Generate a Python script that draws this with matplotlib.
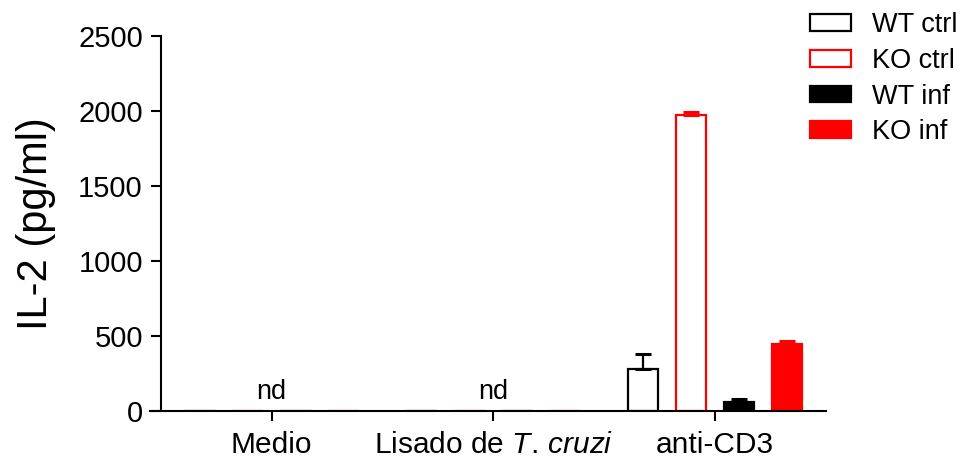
import numpy as np
import matplotlib
matplotlib.use('Agg')
import matplotlib.pyplot as plt
from matplotlib.patches import Patch

plt.rcParams['font.family'] = 'Liberation Sans'
plt.rcParams['mathtext.fontset'] = 'custom'
plt.rcParams['mathtext.rm'] = 'Liberation Sans'
plt.rcParams['mathtext.it'] = 'Liberation Sans:italic'

groups = ['Medio', 'Lisado de $\\it{T.\\,cruzi}$', 'anti-CD3']
wt_ctrl = [0, 0, 285]
ko_ctrl = [0, 0, 1973]
wt_inf = [0, 0, 62]
ko_inf = [0, 4, 451]
wt_ctrl_err = [0, 0, 100]
ko_ctrl_err = [0, 0, 22]
wt_inf_err = [0, 0, 18]
ko_inf_err = [0, 0, 16]
nd_groups = [0, 1]

series = [
    ('WT ctrl', wt_ctrl, wt_ctrl_err, 'white', 'black'),
    ('KO ctrl', ko_ctrl, ko_ctrl_err, 'white', 'red'),
    ('WT inf', wt_inf, wt_inf_err, 'black', 'black'),
    ('KO inf', ko_inf, ko_inf_err, 'red', 'red'),
]

fig = plt.figure(figsize=(9.6, 4.59), dpi=100)
ax = fig.add_axes([0.15625, 0.1035, 0.704, 0.818])

x = np.arange(1, len(groups) + 1)
offsets = [-0.324, -0.108, 0.108, 0.324]
width = 0.138

for (name, vals, errs, fc, ec), off in zip(series, offsets):
    vals = np.array(vals, dtype=float)
    errs = np.array(errs, dtype=float)
    ax.bar(x + off, vals, width, color=fc, edgecolor=ec, linewidth=1.6, zorder=2)
    m = errs > 0
    ax.errorbar(x[m] + off, vals[m], yerr=[np.zeros(m.sum()), errs[m]],
                fmt='none', ecolor=ec, elinewidth=1.6, capsize=6, capthick=2.2, zorder=3)

for i in nd_groups:
    ax.text(x[i], 82, 'nd', ha='center', va='baseline', fontsize=19.5)

ax.set_xlim(0.451, 3.5)
ax.set_ylim(0, 2500)
ax.set_yticks(np.arange(0, 2501, 500))
ax.set_xticks(x)
ax.set_xticklabels(groups, fontsize=21.5)
ax.tick_params(axis='y', labelsize=21, length=7, width=1.5, pad=6)
ax.tick_params(axis='x', length=7, width=1.5, pad=7)
ax.spines['top'].set_visible(False)
ax.spines['right'].set_visible(False)
ax.spines['left'].set_position(('data', 0.5))
ax.spines['left'].set_linewidth(1.5)
ax.spines['bottom'].set_linewidth(1.5)
ax.set_ylabel('IL-2 (pg/ml)', fontsize=30, labelpad=16)

handles = [Patch(facecolor=fc, edgecolor=ec, linewidth=1.6) for _, _, _, fc, ec in series]
fig.legend(handles, [s[0] for s in series], loc='upper left',
           bbox_to_anchor=(810 / 960, 1 - 12 / 459), frameon=False, fontsize=19.5,
           handlelength=1.5, handleheight=0.58, handletextpad=0.8,
           labelspacing=0.36, borderpad=0, borderaxespad=0)

fig.savefig('out.png', dpi=100)
